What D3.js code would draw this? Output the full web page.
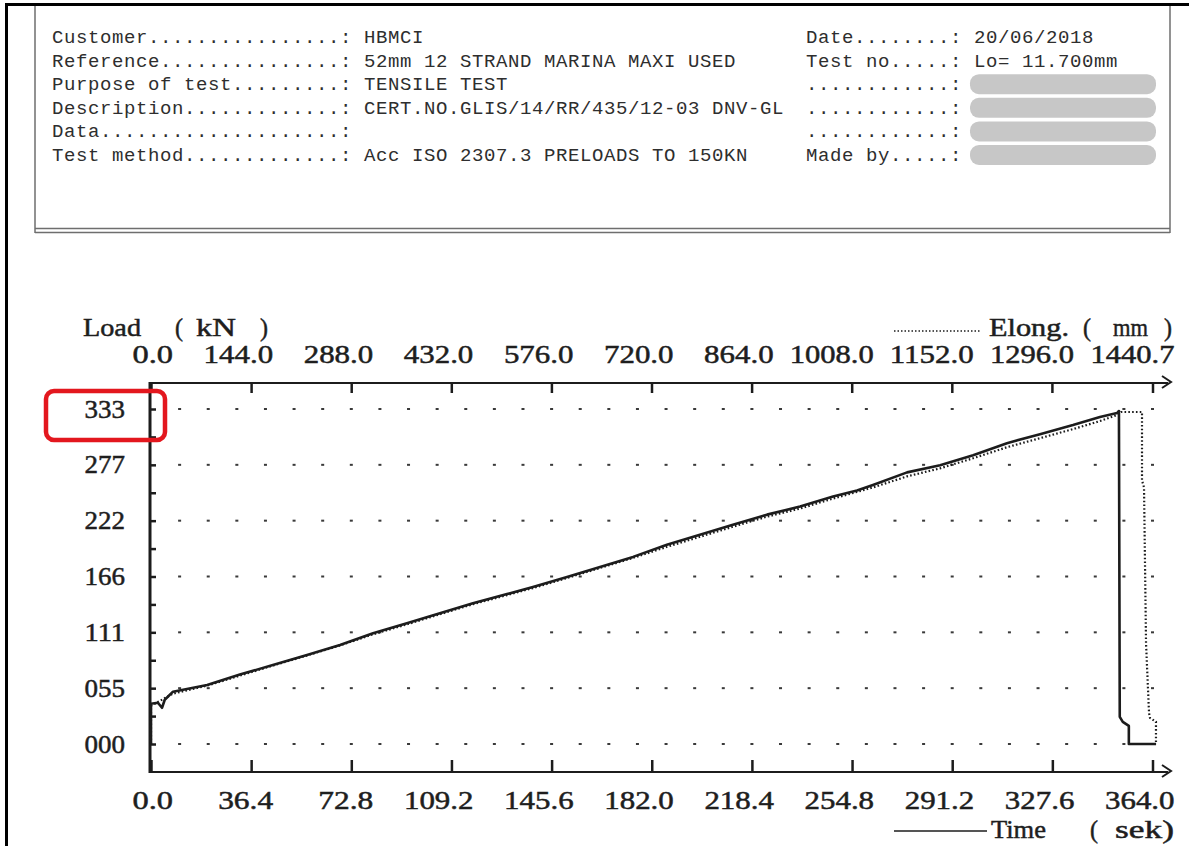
<!DOCTYPE html>
<html>
<head>
<meta charset="utf-8">
<script src="https://cdn.jsdelivr.net/npm/d3@7/dist/d3.min.js"></script>
<style>
  html, body { margin: 0; padding: 0; background: #fff; }
  svg { display: block; }
  .hdr { font-family: "Liberation Mono", monospace; font-size: 19px; letter-spacing: 0.6px; fill: #2e2e2e; white-space: pre; }
  .plot-txt { font-family: "Liberation Serif", serif; font-size: 26px; fill: #1e1e1e; stroke: #1e1e1e; stroke-width: 0.5px; }
</style>
</head>
<body>
<svg id="chart" width="1189" height="846"></svg>
<script>
// ---- header block ----
const headerLeft = [
  "Customer................: HBMCI",
  "Reference...............: 52mm 12 STRAND MARINA MAXI USED",
  "Purpose of test.........: TENSILE TEST",
  "Description.............: CERT.NO.GLIS/14/RR/435/12-03 DNV-GL",
  "Data....................:",
  "Test method.............: Acc ISO 2307.3 PRELOADS TO 150KN"
];
const headerRight = [
  "Date........: 20/06/2018",
  "Test no.....: Lo= 11.700mm",
  "............:",
  "............:",
  "............:",
  "Made by.....:"
];
const redactedRows = [2, 3, 4, 5];

// ---- axis ticks ----
const loadTickValues = [0, 55.5, 111, 166.5, 222, 277.5, 333];
const loadTickLabels = ["000", "055", "111", "166", "222", "277", "333"];
const timeTicks = [0, 36.4, 72.8, 109.2, 145.6, 182.0, 218.4, 254.8, 291.2, 327.6, 364.0];
const timeTickLabels = ["0.0", "36.4", "72.8", "109.2", "145.6", "182.0", "218.4", "254.8", "291.2", "327.6", "364.0"];
const elongTicks = [0, 144, 288, 432, 576, 720, 864, 1008, 1152, 1296, 1440.7];
const elongTickLabels = ["0.0", "144.0", "288.0", "432.0", "576.0", "720.0", "864.0", "1008.0", "1152.0", "1296.0", "1440.7"];

// ---- load vs time (solid) ----
const timeSec = [0, 0, 2.5, 4.0, 5.0, 8.0, 20.4, 32.3, 44.3, 56.7, 68.7, 80.7, 93.0, 105.0, 117.0, 129.4,
  138.8, 151.2, 163.2, 175.2, 187.5, 199.5, 211.5, 223.9, 235.9, 247.9, 256.6, 262.4, 274.8, 286.8,
  298.8, 311.1, 323.1, 335.1, 344.9, 351.1, 351.8, 352.1, 353.2, 355.4, 355.4, 365.3];
const timeLoad = [0, 40, 41, 36, 44, 52, 58.6, 69, 78.5, 88.5, 98.4, 110, 120, 130, 140, 149,
  156, 166, 176, 186, 198, 208, 218, 228, 236, 246, 252, 257.5, 270, 277,
  287, 299, 308, 317, 325, 329, 331, 27, 22, 18, 0, 0];

// ---- load vs elongation (dotted) ----
const elongMm = [0, 0, 31.6, 80.6, 128.1, 175.5, 224.4, 271.9, 319.4, 368.3, 415.7, 463.2, 512.1, 549.5,
  598.4, 645.9, 693.4, 742.3, 789.8, 837.2, 886.1, 933.6, 981.1, 1038.6, 1087.5, 1135.0, 1182.5,
  1231.4, 1278.9, 1326.3, 1365.2, 1389.6, 1395.4, 1425.6, 1425.6, 1428.5, 1431.4, 1435.7, 1437.1,
  1445.7, 1445.7];
const elongLoad = [0, 38, 50, 58, 68, 78, 88, 98, 109, 119, 129, 139, 148, 155,
  165, 175, 185, 196, 206, 216, 226, 234, 244, 255, 266, 274, 284,
  295, 304, 313, 321, 327, 330, 330, 262, 255, 100, 31, 26,
  22, 0];

const svg = d3.select("#chart");

// page frame
svg.append("rect").attr("x", 5).attr("y", 3).attr("width", 1184).attr("height", 3).attr("fill", "#000");
svg.append("rect").attr("x", 5).attr("y", 3).attr("width", 3).attr("height", 843).attr("fill", "#000");

// header box
const hb = svg.append("g").attr("stroke", "#6e6e6e").attr("stroke-width", 1.5).attr("fill", "none");
hb.append("line").attr("x1", 35).attr("x2", 35).attr("y1", 6).attr("y2", 233);
hb.append("line").attr("x1", 1170).attr("x2", 1170).attr("y1", 6).attr("y2", 233);
hb.append("line").attr("x1", 35).attr("x2", 1170).attr("y1", 228.5).attr("y2", 228.5);
hb.append("line").attr("x1", 35).attr("x2", 1170).attr("y1", 232.5).attr("y2", 232.5);

const rowY = i => 37 + 23.6 * i;
svg.append("g").selectAll("rect").data(redactedRows).join("rect")
  .attr("x", 970).attr("y", d => rowY(d) - 10).attr("width", 186).attr("height", 20)
  .attr("rx", 9).attr("fill", "#c7c7c7");
svg.append("g").selectAll("text").data(headerLeft).join("text")
  .attr("class", "hdr").attr("x", 52).attr("y", (d, i) => rowY(i) + 6).text(d => d);
svg.append("g").selectAll("text").data(headerRight).join("text")
  .attr("class", "hdr").attr("x", 806).attr("y", (d, i) => rowY(i) + 6).text(d => d);

// ---- plot ----
const x0 = 151, x1 = 1152.5;
const xTime = d3.scaleLinear().domain([0, 364]).range([x0, x1]);
const xElong = d3.scaleLinear().domain([0, 1440.7]).range([x0, x1]);
const yLoad = d3.scaleLinear().domain([0, 333]).range([744, 409]);
const topY = 383, bottomY = 772, axisX = 150, arrowEnd = 1170;
const ink = "#1c1c1c";

// dotted reference rows
const gridStep = 10.4;
const gridTimes = d3.range(1, 36).map(k => k * gridStep);
const dots = [];
loadTickValues.forEach(v => gridTimes.forEach(t => dots.push({ t, v })));
svg.append("g").selectAll("rect").data(dots).join("rect")
  .attr("x", d => xTime(d.t) - 1.5).attr("y", d => yLoad(d.v) - 1)
  .attr("width", 3).attr("height", 2).attr("fill", "#3a3a3a");

// axes
const topAxis = d3.axisBottom(xElong).tickValues(elongTicks).tickSize(10).tickSizeOuter(0).tickFormat("");
const gTop = svg.append("g").attr("transform", `translate(0,${topY})`).call(topAxis);
const bottomAxis = d3.axisTop(xTime).tickValues(timeTicks).tickSize(12).tickSizeOuter(0).tickFormat("");
const gBot = svg.append("g").attr("transform", `translate(0,${bottomY})`).call(bottomAxis);
const halfTicks = d3.range(0, 13).map(k => k * 27.75);
const leftAxis = d3.axisRight(yLoad).tickValues(halfTicks).tickSize(6).tickSizeOuter(0).tickFormat("");
const gLeft = svg.append("g").attr("transform", `translate(${axisX},0)`).call(leftAxis);
[gTop, gBot, gLeft].forEach(g => {
  g.select(".domain").remove();
  g.selectAll(".tick line").attr("stroke", ink).attr("stroke-width", 2.5);
});

const axes = svg.append("g").attr("stroke", ink).attr("fill", "none").attr("stroke-width", 2.2);
axes.append("line").attr("x1", axisX).attr("x2", axisX).attr("y1", topY - 1).attr("y2", bottomY + 1).attr("stroke-width", 3);
axes.append("line").attr("x1", axisX).attr("x2", arrowEnd - 2).attr("y1", topY).attr("y2", topY);
axes.append("line").attr("x1", axisX).attr("x2", arrowEnd - 2).attr("y1", bottomY).attr("y2", bottomY);
[topY, bottomY].forEach(y => {
  axes.append("path").attr("d", `M${arrowEnd - 8},${y - 7} L${arrowEnd + 1},${y - 1} L${arrowEnd - 8},${y + 5}`).attr("stroke-width", 2);
});

// tick labels (fixed-cell printer style, right aligned to the tick)
const cell = 14.5;
function cellText(str, xEnd, y) {
  svg.append("text").attr("class", "plot-txt")
    .attr("x", xEnd).attr("y", y).attr("text-anchor", "end")
    .attr("textLength", str.length * cell - 3).attr("lengthAdjust", "spacingAndGlyphs")
    .text(str);
}
elongTicks.forEach((v, i) => cellText(elongTickLabels[i], xElong(v) + 22, 363));
timeTicks.forEach((v, i) => cellText(timeTickLabels[i], xTime(v) + 22, 809));
loadTickValues.forEach((v, i) => cellText(loadTickLabels[i], 125, yLoad(v) + 8.5));

// axis titles
function piece(str, xStart, xEnd, y) {
  svg.append("text").attr("class", "plot-txt").attr("x", xStart).attr("y", y)
    .attr("textLength", xEnd - xStart).attr("lengthAdjust", "spacingAndGlyphs").text(str);
}
piece("Load", 83, 141, 336);
piece("(", 175, 183, 336);
piece("kN", 196, 236, 336);
piece(")", 260, 268, 336);

piece("Elong.", 989, 1069, 336);
piece("(", 1083, 1091, 336);
piece("mm", 1113, 1148, 336);
piece(")", 1164, 1172, 336);

piece("Time", 991, 1046, 838);
piece("(", 1090, 1098, 838);
piece("sek)", 1115, 1174, 838);

// legend swatches
svg.append("line").attr("x1", 894).attr("x2", 980).attr("y1", 331).attr("y2", 331)
  .attr("stroke", ink).attr("stroke-width", 1.5).attr("stroke-dasharray", "1.5 2");
svg.append("line").attr("x1", 894).attr("x2", 987).attr("y1", 831).attr("y2", 831)
  .attr("stroke", ink).attr("stroke-width", 1.5);

// curves
const timeData = timeSec.map((t, i) => ({ x: t, v: timeLoad[i] }));
const elongData = elongMm.map((e, i) => ({ x: e, v: elongLoad[i] }));
svg.append("path").datum(elongData)
  .attr("d", d3.line().x(d => xElong(d.x)).y(d => yLoad(d.v)))
  .attr("fill", "none").attr("stroke", ink).attr("stroke-width", 2.2)
  .attr("stroke-dasharray", "1.6 2.2");
svg.append("path").datum(timeData)
  .attr("d", d3.line().x(d => xTime(d.x)).y(d => yLoad(d.v)))
  .attr("fill", "none").attr("stroke", ink).attr("stroke-width", 2.6).attr("stroke-linejoin", "round");

// highlight around the top load value
svg.append("rect").attr("x", 46).attr("y", 391).attr("width", 119).attr("height", 49).attr("rx", 8)
  .attr("fill", "none").attr("stroke", "#e3171e").attr("stroke-width", 4.5);
</script>
</body>
</html>
